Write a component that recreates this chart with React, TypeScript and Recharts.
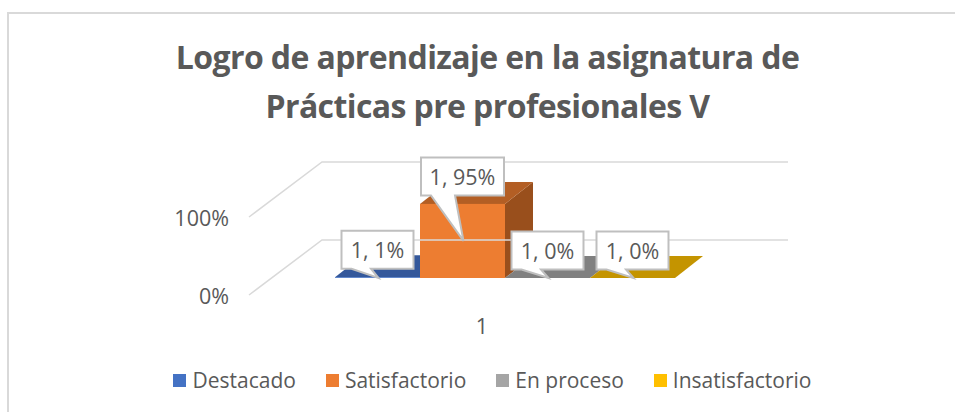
import React from "react";
import { BarChart, Bar, XAxis, YAxis, Legend, LabelList } from "recharts";

const categories = ["1"];
const seriesNames = ["Destacado", "Satisfactorio", "En proceso", "Insatisfactorio"];
const seriesValues = [0.01, 0.95, 0, 0];
const yTicks = [0, 1];
const titleLines = ["Logro de aprendizaje en la asignatura de", "Prácticas pre profesionales V"];

const frontColors = ["#4472C4", "#ED7D31", "#A5A5A5", "#FFC000"];
const topColors = ["#34589B", "#B35E24", "#808080", "#C49400"];
const sideColors = ["#2C4A82", "#994F1C", "#6E6E6E", "#A67D00"];

const FONT = "'Open Sans', sans-serif";
const TEXT = "#595959";
const DX = 28;
const DY = 22;

const data = categories.map((c) => {
  const row: Record<string, string | number> = { category: c };
  seriesNames.forEach((n, i) => {
    row[n] = seriesValues[i];
  });
  return row;
});

const Box3D = (i: number) => (p: any) => {
  const { x, y, width: w, height: h } = p;
  const top = `${x},${y} ${x + DX},${y - DY} ${x + w + DX},${y - DY} ${x + w},${y}`;
  const side = `${x + w},${y} ${x + w + DX},${y - DY} ${x + w + DX},${y + h - DY} ${x + w},${y + h}`;
  return (
    <g>
      <polygon points={side} fill={sideColors[i]} />
      <polygon points={top} fill={topColors[i]} />
      {h > 0 && <rect x={x} y={y} width={w} height={h} fill={frontColors[i]} />}
    </g>
  );
};

const Callout = (p: any) => {
  const { x, y, width: w, height: h, value } = p;
  const text = `${categories[0]}, ${Math.round(Number(value) * 100)}%`;
  const boxW = text.length > 5 ? 83 : 72;
  const cx = x + w / 2;
  const left = cx - boxW / 2;
  const right = cx + boxW / 2;
  const bottom = y - 8.5;
  const boxTop = bottom - 38;
  const tipY = h > 2 ? y + h / 2 : y + h;
  const d = `M${left},${boxTop} H${right} V${bottom} H${left + boxW * 0.41} L${cx + 1},${tipY} L${left + 10},${bottom} H${left} Z`;
  return (
    <g>
      <path d={d} fill="#fff" stroke="#BFBFBF" strokeWidth={2} />
      <text x={cx} y={boxTop + 19} textAnchor="middle" dominantBaseline="central" fontFamily={FONT} fontSize={21.5} fill={TEXT}>
        {text}
      </text>
    </g>
  );
};

const YTick = (p: any) => {
  const { y, payload } = p;
  const fy = y + 17;
  return (
    <g>
      <path d={`M249,${fy} L322,${fy - 55} H788`} fill="none" stroke="#D9D9D9" strokeWidth={1.5} />
      <text x={229} y={fy} textAnchor="end" dominantBaseline="central" fontFamily={FONT} fontSize={21.5} fill={TEXT}>
        {`${payload.value * 100}%`}
      </text>
    </g>
  );
};

const XTick = (p: any) => {
  const { x, payload } = p;
  return (
    <text x={x - 23} y={325} textAnchor="middle" dominantBaseline="central" fontFamily={FONT} fontSize={21.5} fill={TEXT}>
      {payload.value}
    </text>
  );
};

const LegendContent = (p: any) => (
  <div style={{ display: "flex", justifyContent: "center", gap: 30, fontFamily: FONT, fontSize: 21, color: TEXT, lineHeight: "28px" }}>
    {(p.payload || []).map((e: any) => (
      <div key={e.value} style={{ display: "flex", alignItems: "center", gap: 6 }}>
        <span style={{ width: 13, height: 13, background: e.color, display: "inline-block" }} />
        <span>{e.value}</span>
      </div>
    ))}
  </div>
);

export default function App() {
  return (
    <div style={{ position: "absolute", left: 0, top: 0, width: 955, height: 412, background: "#fff", overflow: "hidden" }}>
      <div style={{ position: "absolute", left: 7, top: 12, width: 960, height: 420, border: "2px solid #D9D9D9" }} />
      <div style={{ position: "absolute", left: 0, top: 33, width: 975, textAlign: "center", fontFamily: FONT, fontWeight: 700, fontSize: 32, letterSpacing: -0.6, lineHeight: "48.5px", color: TEXT }}>
        {titleLines.map((t) => (
          <div key={t}>{t}</div>
        ))}
      </div>
      <div style={{ position: "absolute", left: 0, top: 0 }}>
        <BarChart
          width={955}
          height={412}
          data={data}
          barGap={0}
          barCategoryGap={62.5}
          margin={{ top: 200, right: 217.5, bottom: 94, left: 172.5 }}
        >
          <YAxis width={100} domain={[0, 1]} ticks={yTicks} axisLine={false} tickLine={false} tick={YTick} />
          <XAxis dataKey="category" height={40} axisLine={false} tickLine={false} tick={XTick} />
          <Legend
            verticalAlign="middle"
            align="center"
            layout="horizontal"
            itemSorter={null}
            content={LegendContent}
            wrapperStyle={{ left: 0, top: 366, width: 985 }}
          />
          {seriesNames.map((n, i) => (
            <Bar key={n} dataKey={n} fill={frontColors[i]} isAnimationActive={false} shape={Box3D(i)} minPointSize={0}>
              <LabelList dataKey={n} content={Callout} />
            </Bar>
          ))}
        </BarChart>
      </div>
    </div>
  );
}
